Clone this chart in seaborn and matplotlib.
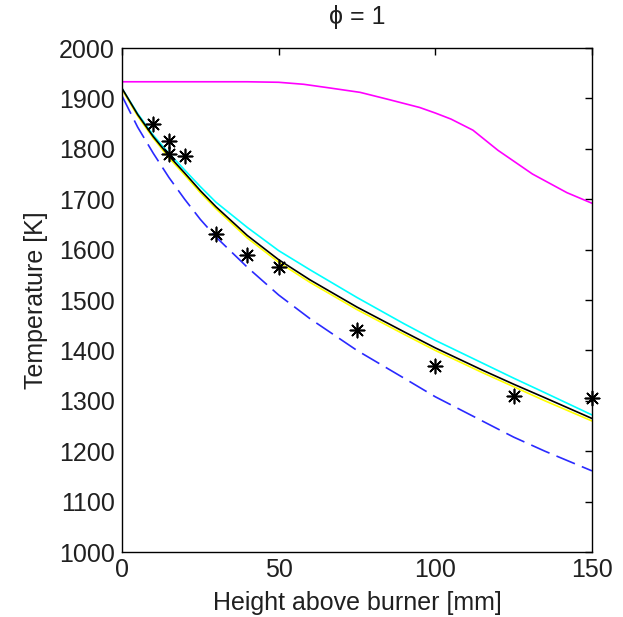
import matplotlib
matplotlib.use("Agg")
import matplotlib.pyplot as plt
import seaborn as sns
import numpy as np
import pandas as pd

# ---- data ----
black_x = [0, 5, 10, 15, 20, 25, 30, 40, 50, 60, 75, 90, 100, 115, 125, 135, 150]
black_y = [1920, 1868, 1824, 1786, 1752, 1717, 1685, 1628, 1580, 1540, 1486, 1437, 1405, 1361, 1333, 1306, 1265]

cyan_x = [0, 5, 10, 15, 20, 25, 30, 40, 50, 60, 75, 90, 100, 115, 125, 135, 150]
cyan_y = [1920, 1870, 1827, 1791, 1758, 1725, 1694, 1644, 1598, 1560, 1505, 1453, 1420, 1375, 1345, 1316, 1272]

yellow_x = [0, 5, 10, 15, 20, 25, 30, 40, 50, 60, 75, 90, 100, 115, 125, 135, 150]
yellow_y = [1918, 1865, 1821, 1782, 1748, 1713, 1681, 1623, 1575, 1535, 1481, 1432, 1400, 1356, 1328, 1300, 1260]

blue_x = [0, 5, 10, 15, 20, 25, 30, 40, 50, 60, 75, 90, 100, 115, 125, 135, 150]
blue_y = [1905, 1843, 1791, 1743, 1700, 1660, 1625, 1565, 1510, 1463, 1400, 1345, 1308, 1260, 1228, 1200, 1161]

magenta_x = [0, 20, 40, 50, 58, 66, 76, 85, 95, 100, 105, 112, 120, 131, 142, 150]
magenta_y = [1933, 1933, 1933, 1932, 1928, 1921, 1912, 1898, 1882, 1871, 1859, 1837, 1797, 1750, 1713, 1692]

meas_x = [10, 15, 15, 20, 30, 40, 50, 75, 100, 125, 150]
meas_y = [1850, 1815, 1790, 1785, 1630, 1590, 1565, 1440, 1370, 1310, 1305]

x_ticks = [0, 50, 100, 150]
y_ticks = [1000, 1100, 1200, 1300, 1400, 1500, 1600, 1700, 1800, 1900, 2000]

title = "\u03d5 = 1"
xlabel = "Height above burner [mm]"
ylabel = "Temperature [K]"

# ---- style ----
sns.set_style("white")
plt.rcParams["font.family"] = ["Liberation Sans", "DejaVu Sans"]
plt.rcParams["text.color"] = "black"
plt.rcParams["axes.labelcolor"] = "black"

fig = plt.figure(figsize=(6.23, 6.17), dpi=100)
ax = fig.add_axes([0.1958, 0.1053, 0.7544, 0.8169])

def line(xs, ys, color, **kw):
    df = pd.DataFrame({"x": xs, "y": ys})
    sns.lineplot(data=df, x="x", y="y", ax=ax, color=color, sort=False,
                 estimator=None, linewidth=1.2, **kw)

line(magenta_x, magenta_y, "#ff00ff")
line(cyan_x, cyan_y, "#00ffff")
line(yellow_x, yellow_y, "#ffff00")
line(black_x, black_y, "black")
df_b = pd.DataFrame({"x": blue_x, "y": blue_y})
sns.lineplot(data=df_b, x="x", y="y", ax=ax, color="#2a2aff", sort=False,
             estimator=None, linewidth=1.2)
ax.lines[-1].set_linestyle((0, (12, 4.5)))

df_m = pd.DataFrame({"x": meas_x, "y": meas_y})
sns.scatterplot(data=df_m, x="x", y="y", ax=ax, marker=(8, 2, 0), s=105,
                color="black", linewidth=1.2, zorder=5, clip_on=False)
sns.scatterplot(data=df_m, x="x", y="y", ax=ax, marker="o", s=14,
                color="black", linewidth=0, zorder=6, clip_on=False)

ax.set_xlim(0, 150)
ax.set_ylim(1000, 2000)
ax.set_xticks(x_ticks)
ax.set_yticks(y_ticks)
ax.set_xticklabels([str(t) for t in x_ticks])
ax.set_yticklabels([str(t) for t in y_ticks])

ax.tick_params(axis="both", which="both", direction="in", length=5, width=1,
               top=True, right=True, labelsize=18, colors="black",
               labelcolor="#202020")
ax.tick_params(axis="x", pad=4)
ax.tick_params(axis="y", pad=5)

for s in ax.spines.values():
    s.set_visible(True)
    s.set_color("black")
    s.set_linewidth(1.0)

ax.set_xlabel(xlabel, fontsize=18, labelpad=7, color="#202020")
ax.set_ylabel(ylabel, fontsize=18, labelpad=8, color="#202020")
ax.set_title(title, fontsize=18, pad=17, color="#202020")

fig.savefig("out.png", dpi=100)
